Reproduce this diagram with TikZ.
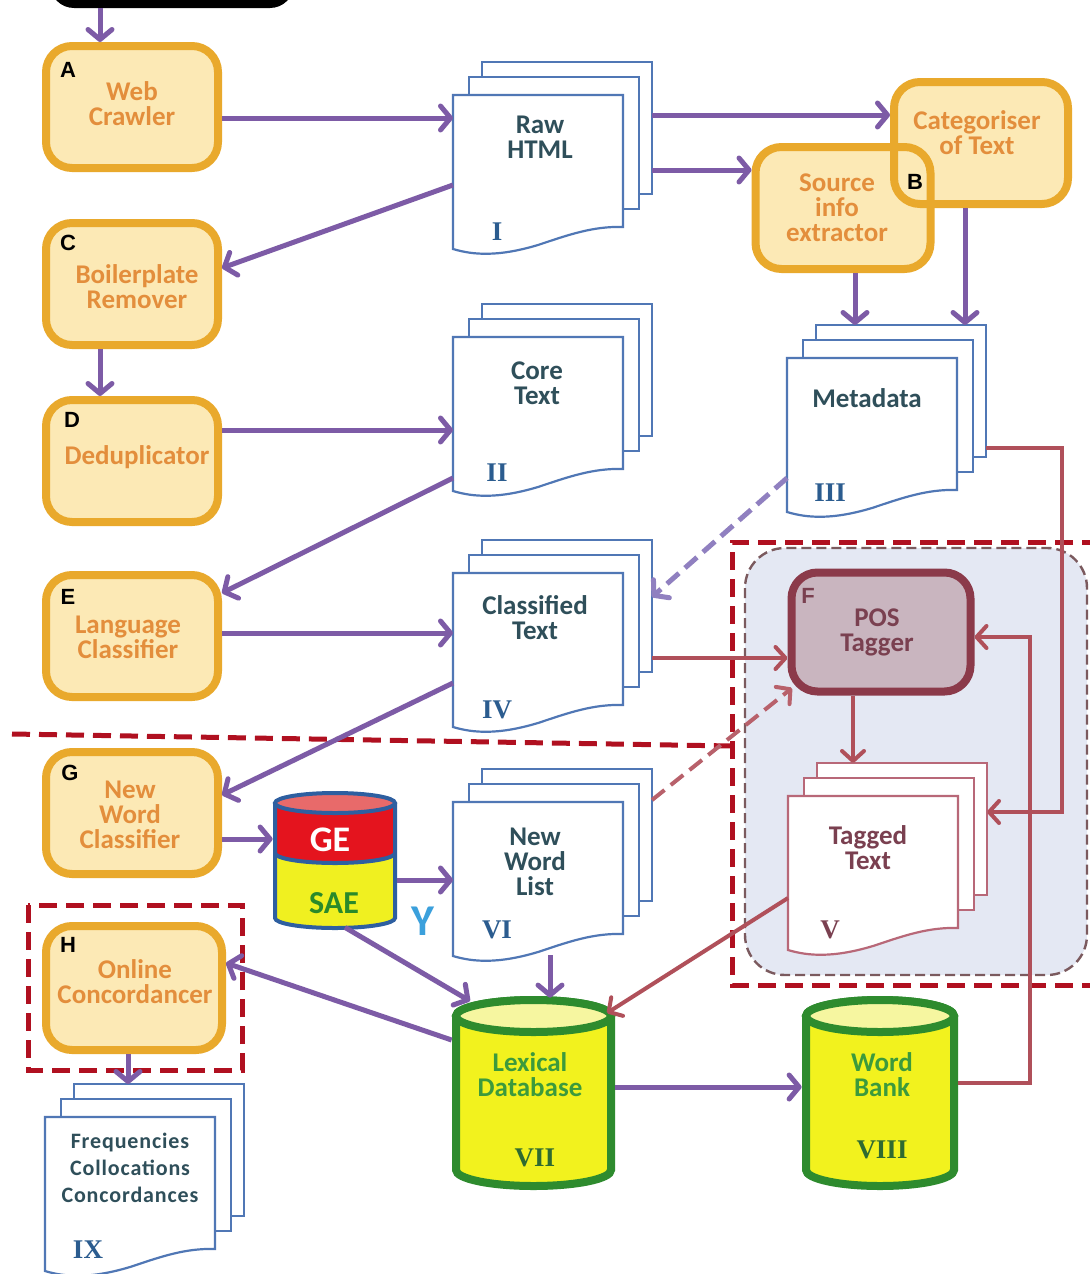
\documentclass[tikz,border=0pt]{standalone}
\usepackage{fontspec}
\setmainfont{Carlito}
\newfontfamily\numfont{Liberation Serif}
\newfontfamily\letfont{Liberation Sans}
\usetikzlibrary{arrows.meta}
\definecolor{boxor}{HTML}{E9A92C}
\definecolor{boxfill}{HTML}{FCE9B5}
\definecolor{lbl}{HTML}{E38E3C}
\definecolor{purp}{HTML}{7D5BA6}
\definecolor{purpd}{HTML}{9080C0}
\definecolor{redar}{HTML}{B0505A}
\definecolor{reddash}{HTML}{B01020}
\definecolor{docblue}{HTML}{5077B5}
\definecolor{doctext}{HTML}{2F4F5A}
\definecolor{numblue}{HTML}{2B5C8F}
\definecolor{docred}{HTML}{B86878}
\definecolor{posline}{HTML}{8B3A4A}
\definecolor{posfill}{HTML}{C9B5BF}
\definecolor{postext}{HTML}{7A4050}
\definecolor{regfill}{HTML}{E4E8F3}
\definecolor{regline}{HTML}{7B5A5E}
\definecolor{cylgreen}{HTML}{2E8B2E}
\definecolor{cylyel}{HTML}{F2F21E}
\definecolor{cyltop}{HTML}{F6F6A0}
\definecolor{lexgreen}{HTML}{3C9A3C}
\definecolor{numgreen}{HTML}{2F6A30}
\definecolor{geblue}{HTML}{2E5FA0}
\definecolor{gered}{HTML}{E4141E}
\definecolor{getop}{HTML}{E86A6A}
\definecolor{saeyel}{HTML}{F0F020}
\definecolor{saegreen}{HTML}{2A8A2A}
\definecolor{ylbl}{HTML}{3BA0DC}
\tikzset{
 pbox/.style={draw=boxor, fill=boxfill, line width=4pt, rounded corners=13pt, inner sep=0pt, minimum width=86pt, minimum height=61pt},
 lbltext/.style={text=lbl, font=\bfseries\fontsize{13.5}{12.5}\selectfont, align=center, inner sep=0pt},
 letter/.style={font=\letfont\bfseries\fontsize{11}{11}\selectfont, inner sep=0pt},
 doctxt/.style={text=doctext, font=\bfseries\fontsize{13.5}{12.5}\selectfont, align=center, inner sep=0pt},
 numtxt/.style={text=numblue, font=\numfont\bfseries\fontsize{13.5}{14}\selectfont, inner sep=0pt},
 docpage/.style={fill=white, line width=1.1pt},
 parrow/.style={draw=purp, line width=2.5pt, -{Straight Barb[length=5pt,width=12pt,round]}},
 rarrow/.style={draw=redar, line width=2pt, -{Straight Barb[length=5pt,width=11pt,round]}},
 rdash/.style={draw=reddash, line width=2.5pt, dash pattern=on 9pt off 4.5pt},
}
\newcommand\docstack[4]{%
  \begin{scope}[shift={(#2,#3)}]
    \draw[docpage, draw=#4] (29,-33) rectangle (199,99);
    \draw[docpage, draw=#4] (16,-18) rectangle (186,114);
    \draw[docpage, draw=#4] (0,0) -- (170,0) -- (170,132) .. controls (140,131) and (115,140) .. (85,150) .. controls (45,162) and (20,160) .. (0,154) -- cycle;
    \coordinate (#1-fl) at (0,0);
    \coordinate (#1-br) at (199,-33);
  \end{scope}}
\newcommand\dbcyl[3]{%
  \filldraw[draw=cylgreen, fill=cylyel, line width=4pt] ({#1-#2},1016) -- ({#1-#2},1170) arc[start angle=180,end angle=360,x radius=#3,y radius=8pt] -- ({#1+#2},1016) arc[start angle=0,end angle=180,x radius=#3,y radius=8pt] -- cycle;
  \draw[draw=cylgreen, fill=cyltop, line width=4pt] (#1,1016) ellipse[x radius=#3,y radius=8pt];}
\begin{document}
\begin{tikzpicture}[x=0.5pt,y=-0.5pt]
\useasboundingbox (0,0) rectangle (1090,1274);
\clip (0,0) rectangle (1090,1274);
\fill[white] (0,0) rectangle (1090,1274);

% reference coordinates
\foreach \v in {115,118,170,185,268,430,448,478,593,597,633,637,658,683,795,800,812,839,880,898,955,963,1040,1083,1087}{\coordinate (y\v) at (0,\v);}
\foreach \v in {100,128,345,550,853,855,965,1030,1062}{\coordinate (x\v) at (\v,0);}

% POS region
\draw[regline, fill=regfill, line width=1.2pt, dash pattern=on 5pt off 2.5pt, rounded corners=20pt] (745,548) rectangle (1087,975);

% top box
\node[fill=black, rounded corners=12pt, minimum width=122pt, minimum height=38pt, inner sep=0pt] (topbox) at (172,-30) {};

% process boxes
\node[pbox] (bA) at (132,107) {};
\node[lbltext] (tA) at (132,104) {Web\\Crawler};
\node[letter] (lA) at (68,70) {A};

\node[pbox] (bC) at (132,284) {};
\node[lbltext] (tC) at (137,287) {Boilerplate\\Remover};
\node[letter] (lC) at (68,243) {C};

\node[pbox] (bD) at (132,461) {};
\node[lbltext] (tD) at (137,457) {Deduplicator};
\node[letter] (lD) at (72,420) {D};

\node[pbox] (bE) at (132,636) {};
\node[lbltext] (tE) at (128,637) {Language\\Classifier};
\node[letter] (lE) at (68,597) {E};

\node[pbox] (bG) at (132,813) {};
\node[lbltext] (tG) at (130,815) {New\\Word\\Classifier};
\node[letter] (lG) at (70,773) {G};

\node[pbox, minimum width=88pt, minimum height=62pt] (bH) at (134,988) {};
\node[lbltext] (tH) at (135,982) {Online\\Concordancer};
\node[letter] (lH) at (68,945) {H};

\node[pbox, draw=none, minimum width=87pt] (bCat) at (981,143) {};
\node[pbox, draw=none, minimum width=87.5pt] (bSrc) at (843,208) {};
\node[pbox, fill=none, minimum width=87pt] (bCatL) at (981,143) {};
\node[pbox, fill=none, minimum width=87.5pt] (bSrcL) at (843,208) {};
\node[lbltext] (tCat) at (977,133) {Categoriser\\of Text};
\node[lbltext] (tSrc) at (837,208) {Source\\info\\extractor};
\node[letter] (lB) at (915,182) {B};

\node[pbox, draw=posline, fill=posfill, minimum width=89.5pt, minimum height=59.5pt] (bF) at (881,632) {};
\node[lbltext, text=postext] (tF) at (877,632) {POS\\Tagger};
\node[letter, text=postext] (lF) at (808,596) {F};

% documents
\docstack{I}{453}{95}{docblue}
\node[doctxt] (tI) at (540,137) {Raw\\HTML};
\node[numtxt] (nI) at (497,232) {I};

\docstack{II}{453}{337}{docblue}
\node[doctxt] (tII) at (537,383) {Core\\Text};
\node[numtxt] (nII) at (497,473) {II};

\docstack{III}{787}{358}{docblue}
\node[doctxt] (tIII) at (867,398) {Metadata};
\node[numtxt] (nIII) at (830,493) {III};

\docstack{IV}{453}{573}{docblue}
\node[doctxt] (tIV) at (535,618) {Classified\\Text};
\node[numtxt] (nIV) at (497,710) {IV};

\docstack{V}{788}{796}{docred}
\node[doctxt, text=postext] (tV) at (868,848) {Tagged\\Text};
\node[numtxt, text=postext] (nV) at (830,930) {V};

\docstack{VI}{453}{802}{docblue}
\node[doctxt] (tVI) at (535,862) {New\\Word\\List};
\node[numtxt] (nVI) at (497,930) {VI};

\docstack{IX}{45}{1117}{docblue}
\node[doctxt, font=\bfseries\fontsize{11}{13.5}\selectfont\addfontfeature{LetterSpace=4}] (tIX) at (130,1168) {Frequencies\\Collocations\\Concordances};
\node[numtxt] (nIX) at (88,1250) {IX};

% GE / SAE cylinder
\node[inner sep=0pt, minimum width=62pt, minimum height=67pt] (Ycyl) at (335,860) {};
\fill[gered] (275,803) -- (275,918) arc[start angle=180,end angle=360,x radius=30pt,y radius=5pt] -- (395,803) arc[start angle=0,end angle=180,x radius=30pt,y radius=5pt] -- cycle;
\fill[saeyel] (275,853) arc[start angle=180,end angle=360,x radius=30pt,y radius=5pt] -- (395,918) arc[start angle=0,end angle=-180,x radius=30pt,y radius=5pt] -- cycle;
\draw[geblue, line width=2pt] (275,853) arc[start angle=180,end angle=360,x radius=30pt,y radius=5pt];
\draw[geblue, line width=2pt, fill=getop] (335,803) ellipse[x radius=30pt,y radius=5pt];
\draw[geblue, line width=2pt] (275,803) -- (275,918) arc[start angle=180,end angle=360,x radius=30pt,y radius=5pt] -- (395,803);
\node[font=\bfseries\fontsize{18}{18}\selectfont, text=white, inner sep=0pt] (tGE) at (330,840) {GE};
\node[font=\bfseries\fontsize{16}{16}\selectfont, text=saegreen, inner sep=0pt] (tSAE) at (334,903) {SAE};
\node[font=\bfseries\fontsize{22}{22}\selectfont, text=ylbl, inner sep=0pt] (tY) at (423,921) {Y};

% database cylinders
\node[inner sep=0pt, minimum width=81.5pt, minimum height=96pt] (VII) at (533.5,1094) {};
\dbcyl{533.5}{77.5}{38.75pt}
\node[doctxt, text=lexgreen] (tVII) at (530,1075) {Lexical\\Database};
\node[numtxt, text=numgreen] (nVII) at (535,1158) {VII};

\node[inner sep=0pt, minimum width=78pt, minimum height=96pt] (VIII) at (880,1094) {};
\dbcyl{880}{74}{37pt}
\node[doctxt, text=lexgreen] (tVIII) at (882,1075) {Word\\Bank};
\node[numtxt, text=numgreen] (nVIII) at (882,1150) {VIII};

% red dashed frames
\coordinate (dl1) at (12,734);
\coordinate (dl2) at (732,746);
\coordinate (fr1) at (1100,542);
\coordinate (fr2) at (732,542);
\coordinate (fr3) at (732,985);
\coordinate (fr4) at (1100,985);
\coordinate (hr1) at (28,905);
\coordinate (hr2) at (242,1070);
\draw[rdash] (dl1) -- (dl2);
\draw[rdash] (fr1) -- (fr2) -- (fr3) -- (fr4);
\draw[rdash] (hr1) rectangle (hr2);

% purple connectors
\draw[parrow] (topbox.south -| x100) -- (bA.north -| x100);
\draw[parrow] (bA.east |- y118) -- (I-fl |- y118);
\draw[parrow] (I-fl |- y185) -- (bC.east |- y268);
\draw[parrow] (I-br |- y115) -- (bCat.west |- y115);
\draw[parrow] (I-br |- y170) -- (bSrc.west |- y170);
\draw[parrow] (x855 |- bSrc.south) -- (x855 |- III-br);
\draw[parrow] (x965 |- bCat.south) -- (x965 |- III-br);
\draw[parrow] (x100 |- bC.south) -- (x100 |- bD.north);
\draw[parrow] (bD.east |- y430) -- (II-fl |- y430);
\draw[parrow] (II-fl |- y478) -- (bE.east |- y593);
\draw[parrow] (bE.east |- y633) -- (IV-fl |- y633);
\draw[parrow, draw=purpd, dash pattern=on 8pt off 4pt] (III-fl |- y478) -- (IV-br |- y597);
\draw[parrow] (IV-fl |- y683) -- (bG.east |- y795);
\draw[parrow] (bG.east |- y839) -- (Ycyl.west |- y839);
\draw[parrow] (Ycyl.east |- y880) -- (VI-fl |- y880);
\coordinate (VIIin1) at (470,1001);
\draw[parrow] (x345 |- Ycyl.south) -- (VIIin1);
\draw[parrow] (x550 |- y955) -- (x550 |- VII.north);
\draw[parrow] (VII.west |- y1040) -- (bH.east |- y963);
\draw[parrow] (x128 |- bH.south) -- (x128 |- IX-br);
\draw[parrow] (VII.east |- y1087) -- (VIII.west |- y1087);

% red connectors
\draw[rarrow] (IV-br |- y658) -- (bF.west |- y658);
\coordinate (Fin2) at (792,688);
\draw[rarrow, dash pattern=on 8pt off 4pt, draw=redar!90!white] (VI-br |- y800) -- (Fin2);
\draw[rarrow] (x853 |- bF.south) -- (x853 |- V-br);
\coordinate (VIIin2) at (607,1013);
\draw[rarrow] (V-fl |- y898) -- (VIIin2);
\draw[rarrow] (III-br |- y448) -- (x1062 |- y448) -- (x1062 |- y812) -- (V-br |- y812);
\draw[rarrow] (VIII.east |- y1083) -- (x1030 |- y1083) -- (x1030 |- y637) -- (bF.east |- y637);
\end{tikzpicture}
\end{document}
